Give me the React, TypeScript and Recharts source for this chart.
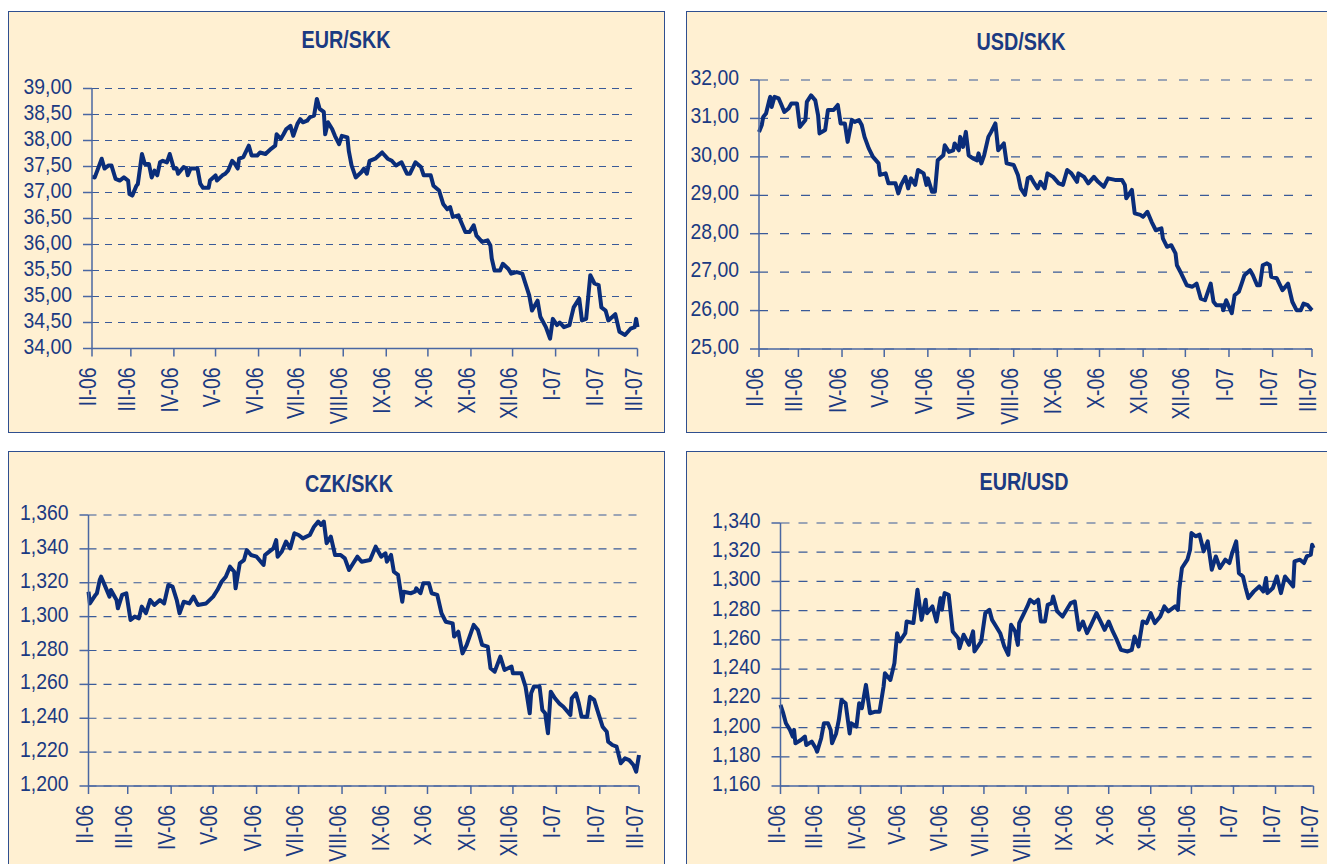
import React from 'react'
import { CartesianGrid, Line, LineChart, XAxis, YAxis } from 'recharts'

// x = days since 1 Feb 2006, ticks at first day of each month
const monthTicks = [0, 28, 59, 89, 120, 150, 181, 212, 242, 273, 303, 334, 365, 393]
const monthLabels = ['II-06', 'III-06', 'IV-06', 'V-06', 'VI-06', 'VII-06', 'VIII-06', 'IX-06', 'X-06', 'XI-06', 'XII-06', 'I-07', 'II-07', 'III-07']

const eurSkkTicks = [34, 34.5, 35, 35.5, 36, 36.5, 37, 37.5, 38, 38.5, 39]
const usdSkkTicks = [25, 26, 27, 28, 29, 30, 31, 32]
const czkSkkTicks = [1.2, 1.22, 1.24, 1.26, 1.28, 1.3, 1.32, 1.34, 1.36]
const eurUsdTicks = [1.16, 1.18, 1.2, 1.22, 1.24, 1.26, 1.28, 1.3, 1.32, 1.34]

// [day, rate]
const eurSkk: [number, number][] = [
  [0, 37.3], [2, 37.29], [7, 37.65], [9, 37.46], [12, 37.52], [14, 37.52], [17, 37.26], [20, 37.23], [23, 37.29], [26, 37.23],
  [27, 36.97], [29, 36.94], [32, 37.13], [33, 37.16], [36, 37.74], [38, 37.55], [41, 37.55], [43, 37.29], [45, 37.42], [47, 37.33],
  [49, 37.58], [51, 37.61], [54, 37.58], [56, 37.74], [59, 37.46], [61, 37.46], [62, 37.36], [66, 37.49], [68, 37.46], [69, 37.33],
  [71, 37.46], [76, 37.46], [78, 37.17], [80, 37.09], [84, 37.09], [85, 37.23], [89, 37.33], [90, 37.23], [94, 37.33], [96, 37.36],
  [98, 37.42], [101, 37.61], [103, 37.55], [105, 37.46], [106, 37.65], [109, 37.68], [113, 37.9], [115, 37.71], [119, 37.71], [121, 37.77],
  [125, 37.74], [129, 37.84], [132, 37.9], [133, 38.12], [136, 38.03], [138, 38.12], [140, 38.22], [143, 38.28], [145, 38.09], [148, 38.32],
  [150, 38.41], [152, 38.35], [155, 38.38], [157, 38.45], [160, 38.48], [162, 38.8], [164, 38.61], [167, 38.55], [168, 38.12], [170, 38.35],
  [173, 38.22], [175, 38.09], [178, 37.93], [180, 38.09], [184, 38.06], [185, 37.8], [187, 37.52], [190, 37.29], [194, 37.39], [196, 37.46],
  [198, 37.36], [200, 37.61], [204, 37.65], [209, 37.77], [213, 37.65], [216, 37.61], [219, 37.52], [223, 37.58], [227, 37.36], [229, 37.36],
  [233, 37.58], [237, 37.49], [239, 37.33], [244, 37.33], [246, 37.13], [250, 37.04], [253, 36.78], [256, 36.68], [258, 36.72], [260, 36.53],
  [264, 36.56], [266, 36.43], [269, 36.24], [272, 36.24], [275, 36.37], [277, 36.17], [281, 36.05], [285, 36.08], [287, 35.98], [288, 35.73],
  [290, 35.5], [294, 35.5], [296, 35.63], [300, 35.53], [302, 35.44], [306, 35.47], [310, 35.44], [312, 35.27], [315, 35.02], [317, 34.73],
  [321, 34.92], [323, 34.61], [327, 34.41], [330, 34.19], [332, 34.57], [335, 34.45], [337, 34.5], [340, 34.41], [344, 34.45], [345, 34.57],
  [347, 34.79], [351, 34.96], [353, 34.54], [356, 34.57], [359, 35.41], [362, 35.25], [365, 35.22], [367, 34.79], [370, 34.73], [372, 34.54],
  [377, 34.66], [380, 34.32], [384, 34.26], [388, 34.38], [391, 34.41], [392, 34.57], [393, 34.41]
]

const usdSkk: [number, number][] = [
  [0, 30.65], [2, 30.83], [3, 31.04], [5, 31.13], [7, 31.43], [8, 31.56], [9, 31.3], [11, 31.56], [14, 31.52], [16, 31.35],
  [18, 31.17], [21, 31.26], [23, 31.39], [27, 31.39], [29, 30.78], [31, 30.87], [33, 30.96], [34, 31.43], [37, 31.6], [40, 31.47],
  [42, 31.08], [43, 30.61], [47, 30.7], [49, 31.22], [53, 31.22], [56, 31.35], [58, 30.87], [61, 30.87], [63, 30.39], [66, 30.96],
  [68, 30.91], [71, 30.96], [73, 30.83], [75, 30.52], [78, 30.22], [81, 30.0], [85, 29.83], [86, 29.53], [90, 29.57], [92, 29.31],
  [97, 29.31], [99, 29.05], [101, 29.27], [104, 29.48], [106, 29.18], [108, 29.44], [111, 29.27], [113, 29.66], [117, 29.57], [119, 29.27],
  [120, 29.44], [123, 29.09], [125, 29.09], [127, 29.91], [131, 30.04], [132, 30.3], [135, 30.13], [138, 30.17], [139, 30.35], [142, 30.17],
  [143, 30.52], [145, 30.26], [147, 30.65], [149, 30.04], [152, 29.96], [155, 29.91], [156, 30.09], [158, 29.83], [160, 30.04], [163, 30.52],
  [165, 30.65], [168, 30.87], [170, 30.17], [174, 30.35], [176, 29.83], [181, 29.79], [184, 29.53], [186, 29.18], [189, 29.01], [191, 29.44],
  [193, 29.48], [195, 29.35], [198, 29.18], [200, 29.35], [203, 29.18], [205, 29.57], [209, 29.48], [213, 29.31], [216, 29.27], [219, 29.66],
  [222, 29.57], [226, 29.35], [227, 29.57], [231, 29.48], [234, 29.31], [238, 29.48], [241, 29.35], [245, 29.22], [248, 29.44], [253, 29.4],
  [258, 29.4], [260, 29.27], [261, 28.92], [265, 29.14], [267, 28.53], [271, 28.49], [273, 28.44], [276, 28.57], [279, 28.31], [282, 28.09],
  [286, 28.14], [287, 27.88], [290, 27.66], [293, 27.7], [296, 27.49], [297, 27.18], [300, 26.97], [304, 26.66], [308, 26.62], [311, 26.7],
  [314, 26.31], [317, 26.27], [321, 26.7], [323, 26.23], [325, 26.14], [329, 26.14], [330, 26.01], [332, 26.27], [336, 25.93], [338, 26.4],
  [341, 26.49], [343, 26.7], [345, 26.92], [349, 27.05], [351, 26.92], [354, 26.66], [356, 26.66], [358, 27.18], [361, 27.23], [363, 27.18],
  [364, 26.88], [368, 26.84], [372, 26.53], [376, 26.7], [379, 26.23], [382, 26.01], [385, 26.01], [387, 26.18], [390, 26.14], [393, 26.01]
]

const czkSkk: [number, number][] = [
  [0, 1.3147], [1, 1.3078], [5, 1.3128], [6, 1.3138], [8, 1.3216], [9, 1.3236], [12, 1.3177], [15, 1.3118], [16, 1.3157], [20, 1.3098],
  [21, 1.3049], [24, 1.3128], [27, 1.3138], [30, 1.298], [33, 1.3], [36, 1.299], [38, 1.3059], [41, 1.302], [44, 1.3098], [47, 1.3069],
  [51, 1.3098], [54, 1.3078], [57, 1.3187], [60, 1.3177], [63, 1.3098], [65, 1.302], [68, 1.3088], [72, 1.3078], [75, 1.3118], [78, 1.3069],
  [84, 1.3078], [89, 1.3118], [92, 1.3157], [95, 1.3206], [98, 1.3236], [101, 1.3295], [104, 1.3265], [105, 1.3167], [108, 1.3315], [111, 1.3334],
  [113, 1.3393], [116, 1.3364], [120, 1.3354], [125, 1.3305], [126, 1.3364], [129, 1.3384], [132, 1.3403], [134, 1.3452], [135, 1.3354], [138, 1.3384],
  [141, 1.3443], [144, 1.3403], [147, 1.3492], [150, 1.3482], [153, 1.3462], [158, 1.3482], [161, 1.3531], [164, 1.3561], [166, 1.3541], [168, 1.3561],
  [170, 1.3433], [173, 1.3472], [176, 1.3364], [180, 1.3364], [183, 1.3344], [186, 1.3275], [189, 1.3315], [192, 1.3354], [195, 1.3324], [201, 1.3334],
  [204, 1.3393], [205, 1.3413], [209, 1.3354], [212, 1.3374], [213, 1.3324], [216, 1.3364], [218, 1.3265], [221, 1.3246], [224, 1.3088], [225, 1.3147],
  [230, 1.3138], [233, 1.3147], [234, 1.3167], [237, 1.3138], [239, 1.3197], [243, 1.3197], [245, 1.3138], [249, 1.3128], [252, 1.302], [255, 1.297],
  [260, 1.296], [261, 1.2882], [264, 1.2911], [267, 1.2783], [270, 1.2833], [275, 1.2951], [278, 1.2921], [281, 1.2833], [285, 1.2823], [287, 1.2695],
  [290, 1.2675], [294, 1.2764], [297, 1.2685], [302, 1.2705], [303, 1.2665], [309, 1.2665], [312, 1.2587], [315, 1.2429], [316, 1.2547], [318, 1.2587],
  [322, 1.2587], [324, 1.2449], [326, 1.2429], [328, 1.2311], [330, 1.2557], [333, 1.2518], [336, 1.2488], [339, 1.2468], [344, 1.2419], [345, 1.2518],
  [348, 1.2547], [350, 1.2488], [352, 1.2409], [356, 1.2409], [358, 1.2527], [361, 1.2508], [364, 1.2429], [367, 1.235], [370, 1.232], [371, 1.2262],
  [374, 1.2242], [377, 1.2232], [380, 1.2134], [383, 1.2163], [386, 1.2153], [389, 1.2124], [391, 1.2085], [393, 1.2183]
]

const eurUsd: [number, number][] = [
  [0, 1.2155], [2, 1.2098], [4, 1.2029], [7, 1.1984], [9, 1.1938], [10, 1.1984], [11, 1.1892], [15, 1.1915], [18, 1.1938], [19, 1.1881],
  [23, 1.1904], [26, 1.1858], [27, 1.1835], [30, 1.1927], [32, 1.2029], [35, 1.2029], [37, 1.1984], [38, 1.1892], [41, 1.196], [43, 1.2052],
  [45, 1.2189], [48, 1.2166], [51, 1.196], [52, 1.2029], [56, 1.2007], [58, 1.2166], [60, 1.2132], [63, 1.2292], [66, 1.2098], [70, 1.2109],
  [73, 1.2109], [76, 1.2281], [77, 1.2372], [81, 1.2326], [84, 1.2441], [86, 1.2646], [88, 1.2589], [92, 1.2646], [93, 1.2726], [98, 1.2715],
  [101, 1.2943], [104, 1.2737], [107, 1.2875], [108, 1.2783], [112, 1.2829], [115, 1.2726], [118, 1.2886], [119, 1.2806], [121, 1.292], [124, 1.2909],
  [127, 1.2658], [131, 1.2612], [132, 1.2543], [135, 1.2635], [139, 1.2566], [142, 1.2658], [143, 1.2521], [148, 1.2589], [151, 1.2783], [154, 1.2806],
  [156, 1.2737], [159, 1.2692], [162, 1.2646], [165, 1.2555], [168, 1.2498], [170, 1.2703], [173, 1.2658], [175, 1.2566], [176, 1.2715], [179, 1.2772],
  [182, 1.2829], [184, 1.2875], [187, 1.2852], [190, 1.2875], [192, 1.2726], [195, 1.2726], [197, 1.284], [200, 1.2852], [201, 1.2897], [204, 1.2795],
  [208, 1.276], [211, 1.2806], [214, 1.2852], [217, 1.2863], [220, 1.2669], [223, 1.2726], [226, 1.2646], [229, 1.2703], [233, 1.2783], [236, 1.2726],
  [239, 1.2669], [242, 1.2726], [245, 1.2658], [248, 1.26], [251, 1.2532], [256, 1.2521], [259, 1.2532], [261, 1.2623], [264, 1.2555], [267, 1.2726],
  [270, 1.2715], [273, 1.2783], [276, 1.2715], [280, 1.276], [283, 1.2829], [286, 1.2795], [291, 1.2829], [293, 1.2806], [294, 1.2943], [296, 1.3092],
  [300, 1.3149], [302, 1.3217], [303, 1.3331], [306, 1.3309], [309, 1.332], [312, 1.3206], [315, 1.3274], [318, 1.308], [321, 1.3171], [324, 1.3092],
  [328, 1.3149], [331, 1.3126], [333, 1.3194], [336, 1.3274], [338, 1.3057], [341, 1.3034], [343, 1.2955], [345, 1.2886], [349, 1.2932], [353, 1.2966],
  [356, 1.2932], [358, 1.3023], [359, 1.292], [363, 1.2955], [366, 1.3034], [369, 1.292], [372, 1.3034], [375, 1.3], [378, 1.2966], [379, 1.3137],
  [383, 1.3149], [386, 1.3126], [388, 1.3171], [391, 1.3183], [392, 1.3251], [393, 1.3229]
]

const FONT = "'Liberation Sans', Arial, sans-serif"
const TEXT = '#1b3a82'
const LINE = '#0a2d7a'
const AXIS = '#4a67a2'
const GRID = '#3a5a98'
const PAPER = '#fff0d2'
const BORDER = '#2f4f8f'

const Y_W = 60
const X_H = 70

type Box = { x: number; y: number; w: number; h: number }
type Plot = { left: number; top: number; right: number; bottom: number }

// the original uses a condensed face, so each text is squeezed along its own direction
function MonthTick(props: any) {
  const { x, y, payload } = props
  const label = monthLabels[monthTicks.indexOf(payload.value)]
  return (
    <text transform={`translate(${x + 4},${y}) rotate(-90) scale(0.84,1)`} textAnchor="end" fill={TEXT} fontSize={23} fontFamily={FONT}>
      {label}
    </text>
  )
}

function RatePanel({ box, plot, points, ticks, digits, dash }: {
  box: Box
  plot: Plot
  points: [number, number][]
  ticks: number[]
  digits: number
  dash: string
}) {
  const data = points.map(([day, value]) => ({ day, value }))
  const margin = {
    left: plot.left - box.x - Y_W,
    top: plot.top - box.y,
    right: box.x + box.w - plot.right,
    bottom: box.y + box.h - plot.bottom - X_H
  }
  const valueTick = (props: any) => (
    <text transform={`translate(${props.x},${props.y + 5}) scale(0.88,1)`} textAnchor="end" fill={TEXT} fontSize={22} fontFamily={FONT}>
      {props.payload.value.toFixed(digits).replace('.', ',')}
    </text>
  )
  return (
    <>
      <div style={{ position: 'absolute', left: box.x, top: box.y, width: box.w, height: box.h, boxSizing: 'border-box', border: `1.5px solid ${BORDER}`, background: PAPER }} />
      <div style={{ position: 'absolute', left: box.x, top: box.y }}>
        <LineChart width={box.w} height={box.h} data={data} margin={margin}>
          <CartesianGrid vertical={false} stroke={GRID} strokeDasharray={dash} strokeWidth={1.2} />
          <XAxis
            type="number"
            dataKey="day"
            domain={[0, 393]}
            ticks={monthTicks}
            interval={0}
            tickSize={8}
            tickMargin={11}
            height={X_H}
            axisLine={{ stroke: AXIS, strokeWidth: 1.5 }}
            tickLine={{ stroke: AXIS, strokeWidth: 1.5 }}
            tick={<MonthTick />}
          />
          <YAxis
            type="number"
            domain={[ticks[0], ticks[ticks.length - 1]]}
            ticks={ticks}
            interval={0}
            tickSize={9}
            tickMargin={11}
            width={Y_W}
            axisLine={{ stroke: AXIS, strokeWidth: 1.5 }}
            tickLine={{ stroke: AXIS, strokeWidth: 1.5 }}
            tick={valueTick}
          />
          <Line type="linear" dataKey="value" stroke={LINE} strokeWidth={4} strokeLinejoin="round" dot={false} isAnimationActive={false} />
        </LineChart>
      </div>
    </>
  )
}

const titles = [
  { text: 'EUR/SKK', x: 346, y: 48 },
  { text: 'USD/SKK', x: 1021, y: 50 },
  { text: 'CZK/SKK', x: 349, y: 492 },
  { text: 'EUR/USD', x: 1024, y: 490 }
]

export default function App() {
  return (
    <div style={{ position: 'absolute', left: 0, top: 0, width: 1327, height: 864, overflow: 'hidden', background: '#ffffff' }}>
      <RatePanel box={{ x: 8, y: 11, w: 657, h: 422 }} plot={{ left: 92, top: 88.5, right: 637.5, bottom: 348.5 }} points={eurSkk} ticks={eurSkkTicks} digits={2} dash="7 6" />
      <RatePanel box={{ x: 686, y: 11, w: 660, h: 422 }} plot={{ left: 759, top: 80, right: 1312, bottom: 349 }} points={usdSkk} ticks={usdSkkTicks} digits={2} dash="9 12" />
      <RatePanel box={{ x: 8, y: 451, w: 657, h: 440 }} plot={{ left: 88.5, top: 515, right: 639, bottom: 786 }} points={czkSkk} ticks={czkSkkTicks} digits={3} dash="8 7" />
      <RatePanel box={{ x: 686, y: 451, w: 660, h: 440 }} plot={{ left: 780.5, top: 523, right: 1313.5, bottom: 786 }} points={eurUsd} ticks={eurUsdTicks} digits={3} dash="9 9" />
      <svg width={1327} height={864} style={{ position: 'absolute', left: 0, top: 0, pointerEvents: 'none' }}>
        {titles.map((t) => (
          <text key={t.text} transform={`translate(${t.x},${t.y}) scale(0.86,1)`} textAnchor="middle" fill={TEXT} fontSize={23} fontWeight="bold" fontFamily={FONT}>
            {t.text}
          </text>
        ))}
      </svg>
    </div>
  )
}
